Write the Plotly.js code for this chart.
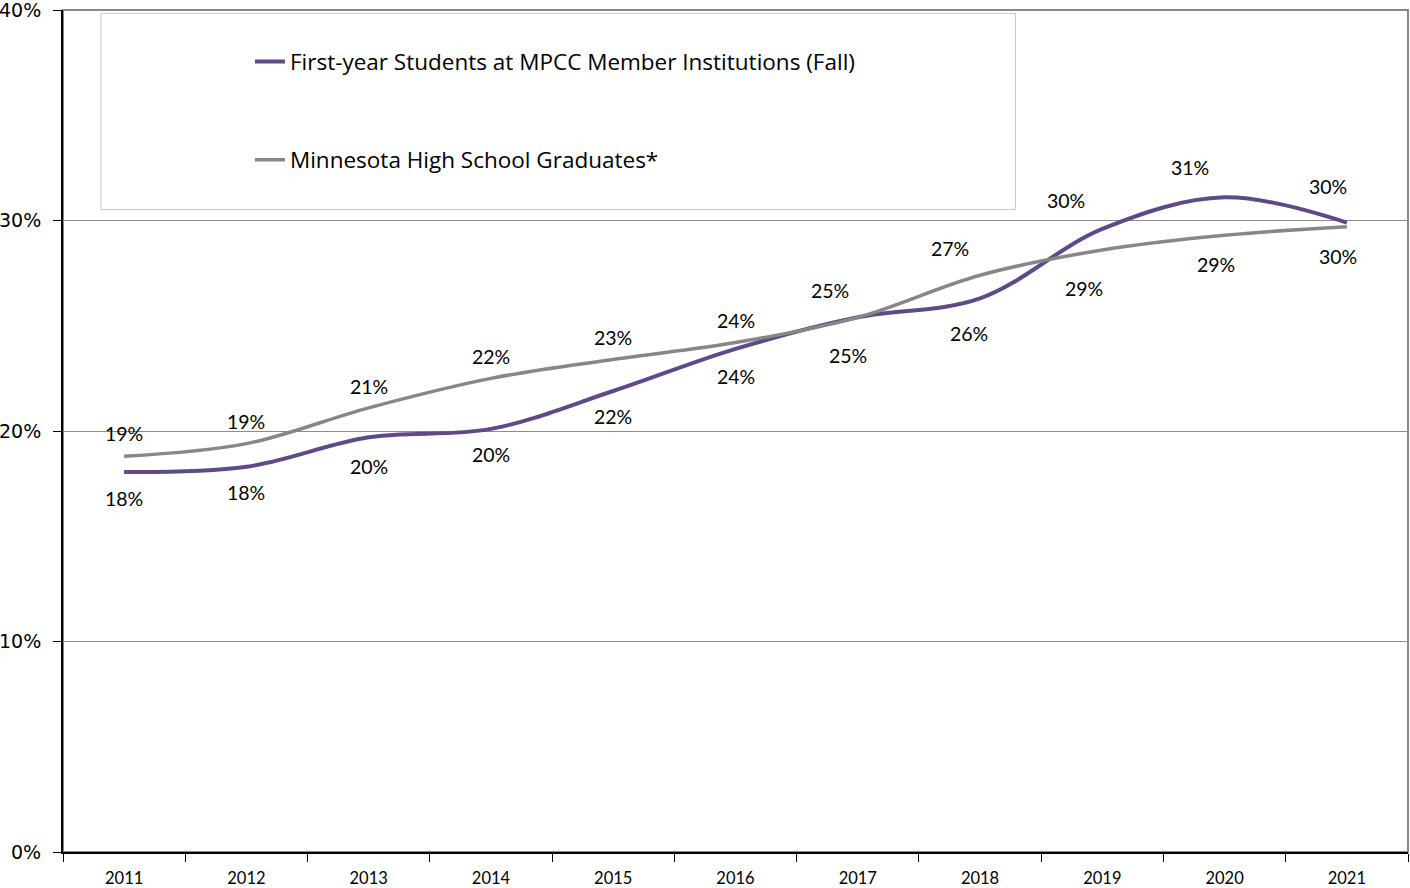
<!DOCTYPE html>
<html>
<head>
<meta charset="utf-8">
<script src="https://cdn.plot.ly/plotly-3.0.1.min.js"></script>
<style>html,body{margin:0;padding:0;background:#fff;}#chart{width:1410px;height:888px;}</style>
</head>
<body>
<div id="chart"></div>
<script>
// ---- data ----
var years = ['2011','2012','2013','2014','2015','2016','2017','2018','2019','2020','2021'];
var firstYear = [18.05, 18.3, 19.7, 20.1, 21.9, 23.9, 25.4, 26.3, 29.6, 31.1, 29.9];
var mnGrads  = [18.8, 19.4, 21.1, 22.5, 23.4, 24.2, 25.4, 27.4, 28.6, 29.3, 29.7];
var firstYearLabels = ['18%','18%','20%','20%','22%','24%','25%','26%','30%','31%','30%'];
var mnGradsLabels  = ['19%','19%','21%','22%','23%','24%','25%','27%','29%','29%','30%'];
var seriesNames = ['First-year Students at MPCC Member Institutions (Fall)', 'Minnesota High School Graduates*'];
var yTickVals = [0, 10, 20, 30, 40];
var yTickText = ['0%','10%','20%','30%','40%'];

// ---- label placement (style) ----
var fyShiftX = [0,0,0,0,0,0,-10,-11,-36,-35,-19];
var fyShiftY = [-26,-26,-29,-26,-25,-28,-38,-35,28,30,36];
var gShiftX  = [0,0,0,0,0,0,-28,-30,-18,-9,-9];
var gShiftY  = [23,22,21,22,22,22,27,27,-39,-29,-30];

var purple = '#5f4a87';
var grey = '#878787';
var labelFont = {family: 'Lato, "Open Sans", sans-serif', size: 19.5, color: '#000'};

var traces = [
  {x: years, y: firstYear, name: seriesNames[0], type: 'scatter', mode: 'lines',
   line: {color: purple, width: 4, shape: 'spline', smoothing: 1}, legendgroup: 'a'},
  {x: years, y: mnGrads, name: seriesNames[1], type: 'scatter', mode: 'lines',
   line: {color: grey, width: 3.5, shape: 'spline', smoothing: 1}, legendgroup: 'b'}
];

var annotations = [];
years.forEach(function(yr, i){
  annotations.push({x: i, y: firstYear[i], xref: 'x', yref: 'y', text: firstYearLabels[i], showarrow: false,
    xshift: fyShiftX[i], yshift: fyShiftY[i], font: labelFont, xanchor: 'center', yanchor: 'middle'});
  annotations.push({x: i, y: mnGrads[i], xref: 'x', yref: 'y', text: mnGradsLabels[i], showarrow: false,
    xshift: gShiftX[i], yshift: gShiftY[i], font: labelFont, xanchor: 'center', yanchor: 'middle'});
});

var layout = {
  width: 1410, height: 888,
  margin: {l: 63, r: 2, t: 10, b: 36},
  paper_bgcolor: '#fff', plot_bgcolor: '#fff',
  showlegend: true,
  legend: {
    x: 0.139, y: 0.964, xanchor: 'left', yanchor: 'top',
    font: {family: '"Open Sans", sans-serif', size: 22.5, color: '#000'},
    traceorder: 'grouped', tracegroupgap: 66,
    bgcolor: 'rgba(0,0,0,0)', borderwidth: 0, itemwidth: 30
  },
  xaxis: {
    type: 'category', tickson: 'boundaries', ticks: 'outside', ticklen: 8, tickcolor: '#000', tickwidth: 1,
    ticklabelstandoff: 10,
    showline: true, linecolor: '#000', linewidth: 2, showgrid: false, zeroline: false,
    tickfont: {family: 'Lato, "Open Sans", sans-serif', size: 16.5, color: '#000'},
    range: [-0.5, 10.5], fixedrange: true
  },
  yaxis: {
    range: [0, 40], tickvals: yTickVals, ticktext: yTickText, ticklabeloverflow: 'allow',
    ticks: 'outside', ticklen: 8, tickcolor: '#000', tickwidth: 1, ticklabelstandoff: 8,
    showline: true, linecolor: '#000', linewidth: 2, showgrid: true, gridcolor: '#8c8c8c', gridwidth: 1,
    zeroline: false, tickfont: {family: '"DejaVu Sans", sans-serif', size: 19, color: '#000'}
  },
  shapes: [
    {type: 'rect', xref: 'paper', yref: 'paper', x0: 0, x1: 1, y0: 0, y1: 1,
     line: {color: '#888', width: 2}, layer: 'below'},
    {type: 'rect', xref: 'paper', yref: 'paper', x0: 0.0282, x1: 0.7082, y0: 0.763, y1: 0.996,
     line: {color: '#c8c8c8', width: 1}, fillcolor: '#fff', layer: 'below'}
  ],
  annotations: annotations
};

Plotly.newPlot('chart', traces, layout, {displayModeBar: false, staticPlot: true});
</script>
</body>
</html>
